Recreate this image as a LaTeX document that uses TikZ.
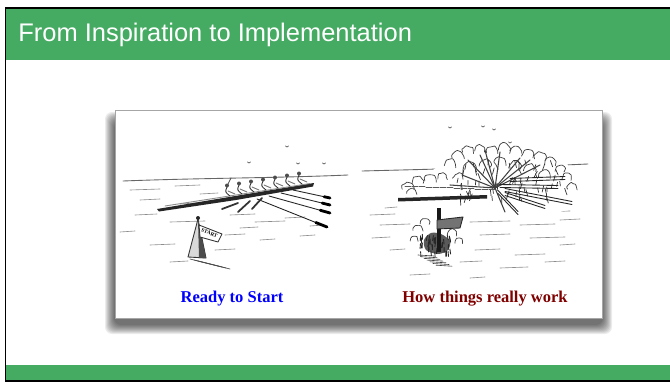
\documentclass[tikz,border=0pt]{standalone}
\usepackage{fontspec}
\setmainfont{Liberation Serif}
\newfontfamily\titlefont{Liberation Sans}
\usetikzlibrary{calc}
\definecolor{slidegreen}{RGB}{69,170,98}
\definecolor{startblue}{RGB}{0,0,255}
\definecolor{workred}{RGB}{128,0,0}

\begin{document}
\begin{tikzpicture}[x=0.02cm, y=-0.02cm,
  pen/.style={line width=0.5pt, line cap=round, line join=round},
  faint/.style={pen, black!45, line width=0.35pt},
  scribble/.style={pen, black!75, line width=0.4pt},
  caption/.style={inner sep=0pt, font=\bfseries\fontsize{9.4pt}{11pt}\selectfont}]
  \pgfmathsetseed{7}
  \useasboundingbox (0,0) rectangle (670,382);
  \fill[white] (0,0) rectangle (670,382);
  \fill[slidegreen] (5,8) rectangle (670,60);
  \fill[slidegreen] (5,365) rectangle (670,381);
  \draw[line width=1.1pt] (670,381) -- (5.5,381) -- (5.5,8.3) -- (670,8.3);
  \node[anchor=base west, inner sep=0pt, text=white,
    font=\titlefont\fontsize{14.5pt}{17pt}\selectfont] (title) at (18,41)
    {From Inspiration to Implementation};

  \foreach \k in {0,...,9}
    \fill[black, opacity=0.075, rounded corners=4pt]
      (105+\k,112+\k) rectangle (612-\k,334-\k);
  \filldraw[fill=white, draw=black!35, line width=0.4pt]
    (115,110) coordinate (photo nw) rectangle (602,318) coordinate (photo se);

  \draw[pen, black!60] (123,181) .. controls (200,178) and (280,178) .. (348,175);
  \foreach \x/\y/\l in {130/190/30, 175/186/25, 140/200/20, 200/194/18, 135/215/22,
      170/222/35, 120/232/15, 230/215/25, 255/222/30, 285/218/20, 150/245/25,
      225/235/20, 260/240/15, 170/262/18, 300/236/15, 215/250/20, 240/228/18,
      310/226/14, 180/204/16}
    \draw[faint] (\x,\y) -- ++(\l,-1);
  \fill[black!85] (157,209) -- (235,196) -- (314,183) -- (313,186.5)
    -- (236,200) -- (159,211.5) -- cycle;
  \draw[pen, black!45] (165,206) -- (310,183.5);
  \foreach \x/\y in {229/196, 241/194, 253/192, 265/190, 277/188, 289/186, 301/184} {
    \draw[pen, black!80] (\x+1,\y) .. controls (\x-4,\y-4) .. (\x-2,\y-9);
    \draw[pen, black!55] (\x-1,\y-5) -- (\x+6,\y-2);
    \fill[black!70] (\x-2,\y-10.5) circle[radius=2];
  }
  \draw[pen, black!70] (227,186) -- (231,178);
  \foreach \sx/\sy/\ex/\ey in {257/199/327/227, 269/196/330/213,
      281/193/330/205, 293/190/330/198} {
    \draw[pen, black!85] (\sx,\sy) -- (\ex,\ey);
    \draw[black, line width=1.6pt, line cap=round]
      ($(\sx,\sy)!0.84!(\ex,\ey)$) -- (\ex,\ey);
  }
  \foreach \sx/\sy/\ex/\ey in {238/203/222/209, 250/201/238/212, 262/198/252/209}
    \draw[pen, black!80, line width=1pt] (\sx,\sy) -- (\ex,\ey);

  \filldraw[fill=black!15, draw=black!80, pen] (198,219) -- (188,257) -- (206,258) -- cycle;
  \fill[black!70] (198,219) -- (206,258) -- (199,258) -- cycle;
  \fill[black!85] (198,218) circle[radius=2];
  \filldraw[fill=white, draw=black!80, pen] (199,225) -- (222,234) -- (218,242)
    -- (200,237) -- cycle;
  \node[rotate=-22, inner sep=0pt, font=\bfseries\fontsize{3pt}{3pt}\selectfont]
    (startflag) at (209.5,233) {START};
  \foreach \i in {0,...,7}
    \draw[faint, black!70] (190+4*\i,259+\i) -- ++(12,3);
  \foreach \x/\y in {287/147, 249/163, 298/164, 324/164}
    \draw[pen, black!60, line width=0.4pt] (\x-1.5,\y-1) -- (\x,\y) -- (\x+1.5,\y-1);

  \draw[pen, black!60] (362,171) .. controls (440,169) and (520,167) .. (588,164);
  \foreach \x/\y/\l in {370/215/25, 380/225/30, 372/238/18, 470/222/40, 520/225/35,
      560/220/20, 480/235/30, 530/238/35, 475/250/25, 515/255/30, 560/245/15,
      390/250/15, 460/262/22, 500/268/28, 545/262/20, 410/275/20, 470/278/15,
      385/208/12, 540/212/30}
    \draw[faint] (\x,\y) -- ++(\l,-1);
  \fill[white] plot[smooth cycle] coordinates {(398,202) (405,182) (430,172)
    (448,158) (470,148) (510,145) (545,150) (568,165) (578,190) (572,208)
    (540,215) (500,215) (460,205) (420,205)};
  \foreach \cx/\cy/\r in {450/165/6, 458/157/6, 468/152/6, 480/150/5, 492/152/6,
      504/149/6, 516/152/6, 528/155/6, 540/158/6, 550/163/6, 560/170/5, 567/178/5,
      572/188/5, 408/188/6, 418/182/6, 430/180/6, 442/178/5, 412/193/5, 470/168/6,
      485/165/6, 500/163/6, 515/167/6, 530/170/6, 545/176/6, 458/178/5}
    \draw[scribble] plot[smooth, domain=170:380, samples=8]
      ({\cx+\r*cos(\x)+0.8*rand}, {\cy+\r*sin(\x)+0.8*rand});
  \foreach \i in {1,...,70} {
    \pgfmathsetmacro\px{455+110*rnd}
    \pgfmathsetmacro\py{160+40*rnd}
    \draw[pen, black!80, line width=0.4pt] (\px,\py) -- ++(-3+6*rnd,4+3*rnd);
  }
  \foreach \ex/\ey in {468/160, 480/155, 500/152, 520/158, 540/165, 462/175,
      450/185, 505/212, 530/160, 485/150}
    \draw[pen, black!75, line width=0.6pt] (495,188) -- (\ex,\ey);
  \foreach \sx/\sy/\ex/\ey in {500/186/558/187, 505/190/572/203, 498/192/518/213,
      505/194/545/207, 510/180/565/178} {
    \draw[pen, black!85, line width=0.5pt] (\sx,\sy-1.5) -- (\ex,\ey-1.5);
    \draw[pen, black!85, line width=0.5pt] (\sx,\sy+1.5) -- (\ex,\ey+1.5);
  }
  \foreach \i in {0,...,12}
    \draw[faint, black!65] (405+7*\i,186+0.3*\i) -- ++(6,0);
  \fill[black!85] (398,198) -- (487,195) -- (487,198.5) -- (398,201.5) -- cycle;

  \fill[black!65] plot[smooth cycle] coordinates {(424,240) (431,233) (441,234)
    (450,241) (448,250) (438,254) (426,250)};
  \foreach \i in {1,...,40} {
    \pgfmathsetmacro\px{420+30*rnd}
    \pgfmathsetmacro\py{232+20*rnd}
    \draw[pen, black!85, line width=0.5pt] (\px,\py) -- ++(-1+2*rnd,5);
  }
  \fill[black!90] (437,208) -- (441,208) -- (441,252) -- (437,252) -- cycle;
  \filldraw[fill=black!55, draw=black!85, pen] (437,220) -- (463,217) -- (460,228)
    -- (437,229) -- cycle;
  \foreach \cx/\cy/\r in {418/230/5, 425/223/5, 452/234/5, 459/242/4, 414/240/4}
    \draw[scribble] plot[smooth, domain=170:380, samples=7]
      ({\cx+\r*cos(\x)+0.6*rand}, {\cy+\r*sin(\x)+0.6*rand});
  \foreach \i in {0,...,6}
    \draw[faint, black!75] (418+3*\i,255+1.7*\i) -- ++(16,1);
  \foreach \x/\y in {450/128, 483/127, 494/130, 510/143}
    \draw[pen, black!60, line width=0.4pt] (\x-1.5,\y-1) -- (\x,\y) -- (\x+1.5,\y-1);

  \node[caption, text=startblue] (ready) at (232,299) {Ready to Start};
  \node[caption, text=workred] (howwork) at (485,299) {How things really work};
\end{tikzpicture}
\end{document}
